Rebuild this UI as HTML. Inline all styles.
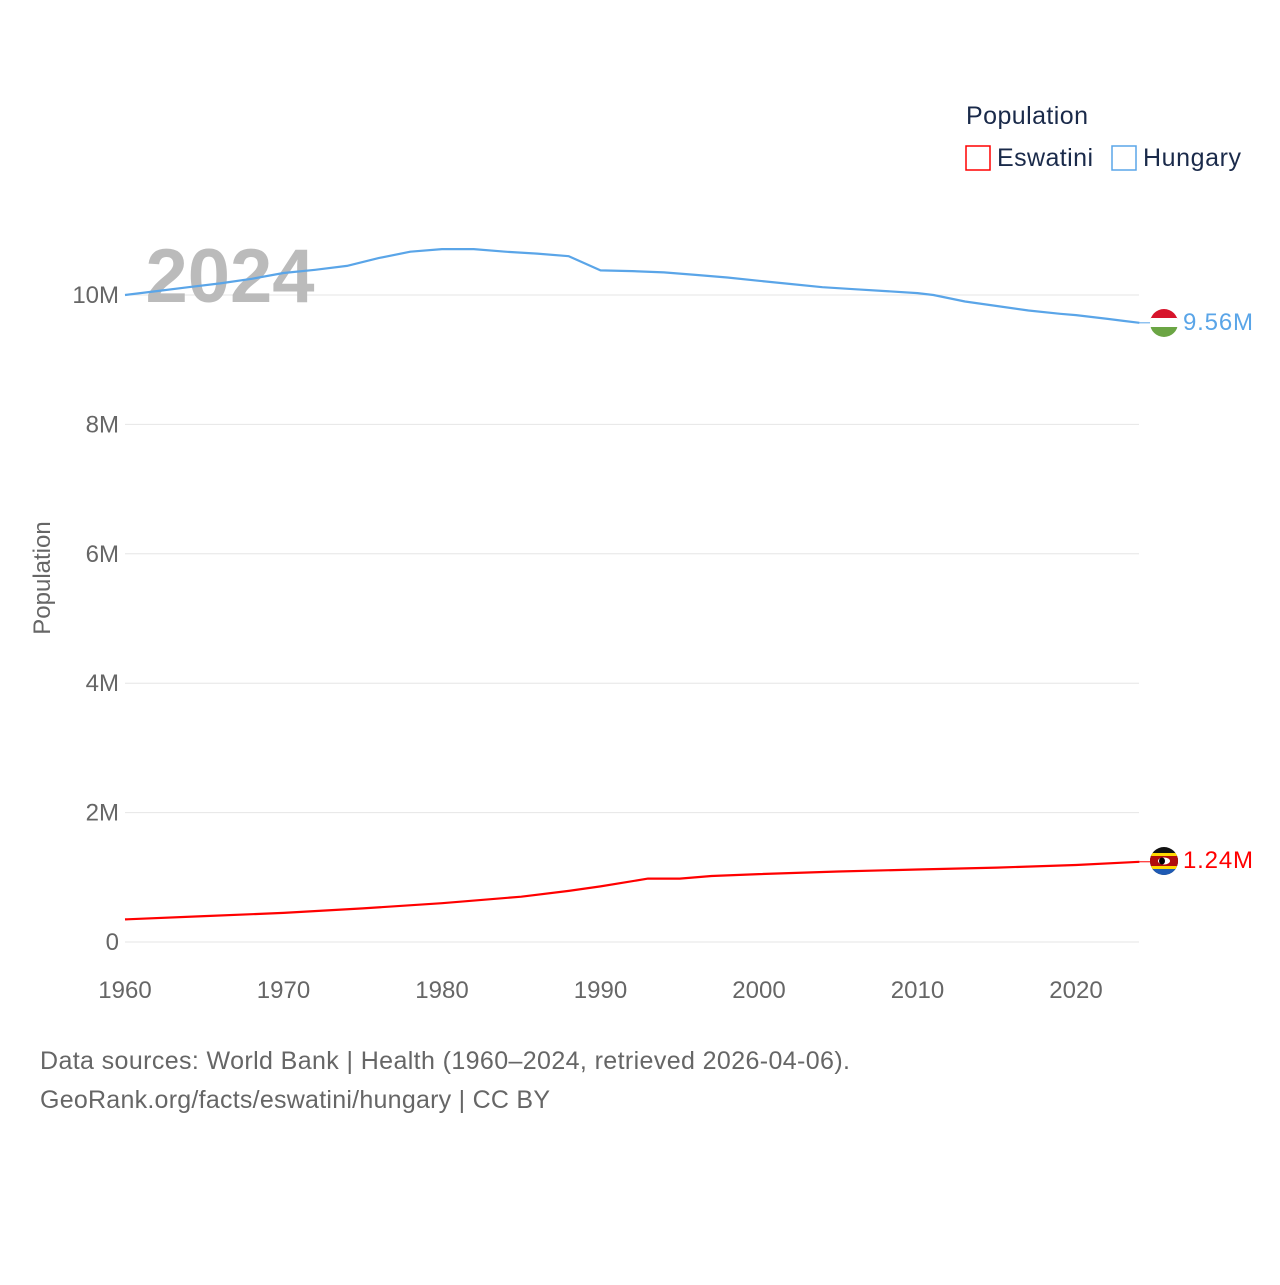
<!DOCTYPE html>
<html><head><meta charset="utf-8"><style>
body{margin:0;background:#fff;font-family:"Liberation Sans",sans-serif}
svg text{font-family:"Liberation Sans",sans-serif}
</style></head><body>
<svg id="chart" width="1280" height="1280" xmlns="http://www.w3.org/2000/svg">
<defs>
<clipPath id="cH"><circle cx="1164" cy="323" r="14"/></clipPath>
<clipPath id="cE"><circle cx="1164" cy="861" r="14"/></clipPath>
</defs>
<g id="grid"></g>
<text x="230" y="302" font-size="76" font-weight="bold" fill="#bbb" text-anchor="middle">2024</text>
<g id="lines"></g>
<g id="xticks"></g>
<text transform="translate(50,578) rotate(-90)" font-size="24" fill="#666" text-anchor="middle">Population</text>
<g>
<text x="966" y="124" font-size="25" fill="#1a2a4a" textLength="122">Population</text>
<rect x="966" y="146" width="24" height="24" fill="none" stroke="#f00" stroke-width="1.5"/>
<text x="997" y="166" font-size="25" fill="#1a2a4a" textLength="96">Eswatini</text>
<rect x="1112" y="146" width="24" height="24" fill="none" stroke="#5aa5e8" stroke-width="1.5"/>
<text x="1143" y="166" font-size="25" fill="#1a2a4a" textLength="98">Hungary</text>
</g>
<g clip-path="url(#cH)">
<rect x="1150" y="309" width="28" height="10" fill="#d7142b"/><rect x="1150" y="318" width="28" height="10" fill="#fff"/><rect x="1150" y="327" width="28" height="10" fill="#6ba544"/>
</g>
<g clip-path="url(#cE)">
<rect x="1150" y="847" width="28" height="28" fill="#111"/><rect x="1150" y="853" width="28" height="3" fill="#ffd700"/><rect x="1150" y="856" width="28" height="10" fill="#b10c0c"/><rect x="1150" y="866" width="28" height="3" fill="#ffd700"/><rect x="1150" y="869" width="28" height="6" fill="#1e5ab4"/>
<ellipse cx="1164" cy="861" rx="6" ry="3.5" fill="#fff"/><ellipse cx="1162" cy="861" rx="3" ry="3.5" fill="#000"/>
</g>
<text x="1183" y="330" font-size="24" fill="#5aa5e8" textLength="70">9.56M</text>
<text x="1183" y="868" font-size="24" fill="#f00" textLength="70">1.24M</text>
<text x="40" y="1069" font-size="25" fill="#666" textLength="810">Data sources: World Bank | Health (1960–2024, retrieved 2026-04-06).</text>
<text x="40" y="1108" font-size="25" fill="#666" textLength="510">GeoRank.org/facts/eswatini/hungary | CC BY</text>
</svg>
<script>
const yTicks=[0,2e6,4e6,6e6,8e6,10e6];
const yTickLabels=["0","2M","4M","6M","8M","10M"];
const xTicks=[1960,1970,1980,1990,2000,2010,2020];
const hunYears=[1960,1962,1964,1966,1968,1970,1972,1974,1976,1978,1980,1982,1984,1986,1988,1990,1992,1994,1996,1998,2000,2002,2004,2006,2008,2010,2011,2013,2015,2017,2019,2020,2022,2023,2024];
const hunVals=[10.0,10.06,10.12,10.18,10.25,10.34,10.39,10.45,10.57,10.67,10.71,10.71,10.67,10.64,10.60,10.38,10.37,10.35,10.31,10.27,10.22,10.17,10.12,10.09,10.06,10.03,10.0,9.90,9.83,9.76,9.71,9.69,9.63,9.60,9.57];
const eswYears=[1960,1965,1970,1975,1980,1985,1988,1990,1993,1995,1997,2000,2005,2010,2015,2020,2024];
const eswVals=[0.35,0.40,0.45,0.52,0.60,0.70,0.79,0.86,0.98,0.98,1.02,1.05,1.09,1.12,1.15,1.19,1.24];
const x=v=>125+(v-1960)*(1076-125)/60;
const y=v=>942-v*(942-295)/10e6;
const NS="http://www.w3.org/2000/svg";
const mk=(t,a,p)=>{const e=document.createElementNS(NS,t);for(const k in a)e.setAttribute(k,a[k]);p.appendChild(e);return e;};
const grid=document.getElementById('grid');
yTicks.forEach((t,i)=>{
 const l=mk('line',{x1:125,x2:1139,y1:y(t),y2:y(t),stroke:'#e6e6e6','stroke-width':1},grid);
 
 
 const tx=mk('text',{x:119,y:y(t)+8,'font-size':24,fill:'#666','text-anchor':'end'},grid);
 tx.textContent=yTickLabels[i];
 
 
});
const xg=document.getElementById('xticks');
xTicks.forEach(t=>{
 const tx=mk('text',{x:x(t),y:998,'font-size':24,fill:'#666','text-anchor':'middle'},xg);
 tx.textContent=t;
 
 
});
const lg=document.getElementById('lines');
function line(ys,vs,col,name){
 const d=ys.map((yr,i)=>(i?'L':'M')+x(yr).toFixed(1)+','+y(vs[i]*1e6).toFixed(1)).join('');
 const p=mk('path',{d:d,fill:'none',stroke:col,'stroke-width':2.2,'stroke-linejoin':'round'},lg);
 
 
 const lastX=x(ys[ys.length-1]),lastY=y(vs[vs.length-1]*1e6);
 const c=mk('line',{x1:lastX,x2:1150,y1:lastY,y2:lastY,stroke:col,'stroke-width':1},lg);
 
 
}
line(hunYears,hunVals,'#5aa5e8','line-hungary');
line(eswYears,eswVals,'#f00','line-eswatini');
</script>
</body></html>
